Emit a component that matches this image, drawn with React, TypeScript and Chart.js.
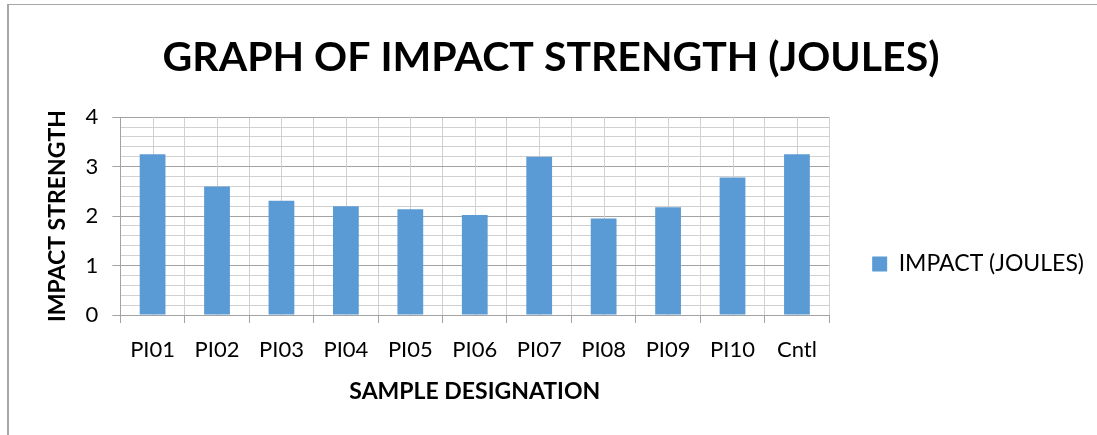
import React, { useEffect, useRef } from "react";
import { Chart, registerables } from "chart.js";

Chart.register(...registerables);

// Sample designations along the x axis
const samples = ["PI01", "PI02", "PI03", "PI04", "PI05", "PI06", "PI07", "PI08", "PI09", "PI10", "Cntl"];
// Measured impact strength per sample, in joules
const impactJoules = [3.25, 2.6, 2.31, 2.2, 2.14, 2.02, 3.2, 1.95, 2.18, 2.78, 3.25];
// Value axis range and gridline steps
const yMin = 0;
const yMax = 4;
const yMinorStep = 0.2;

const seriesLabel = "IMPACT (JOULES)";
const chartTitle = "GRAPH OF IMPACT STRENGTH (JOULES)";
const xTitle = "SAMPLE DESIGNATION";
const yTitle = "IMPACT STRENGTH";

const FONT = "Lato, 'Open Sans', sans-serif";
const BAR_BLUE = "#5b9bd5";
const MAJOR_GRID = "#a3a3a3";
const MINOR_GRID = "#d0d0d0";

const isWhole = (v: number) => Math.abs(v - Math.round(v)) < 1e-6;

// Light vertical lines through the middle of each category, behind the bars
const categoryCenterLines = {
  id: "categoryCenterLines",
  beforeDatasetsDraw(chart: any) {
    const { ctx, chartArea, scales } = chart;
    const x = scales.x;
    ctx.save();
    ctx.strokeStyle = MINOR_GRID;
    ctx.lineWidth = 1;
    for (let i = 0; i < samples.length; i++) {
      const px = Math.round(x.getPixelForValue(i)) + 0.5;
      ctx.beginPath();
      ctx.moveTo(px, chartArea.top);
      ctx.lineTo(px, chartArea.bottom);
      ctx.stroke();
    }
    ctx.restore();
  },
};

export default function App() {
  const canvasRef = useRef<HTMLCanvasElement | null>(null);

  useEffect(() => {
    if (!canvasRef.current) return;
    const chart = new Chart(canvasRef.current, {
      type: "bar",
      data: {
        labels: samples,
        datasets: [
          {
            label: seriesLabel,
            data: impactJoules,
            backgroundColor: BAR_BLUE,
            borderColor: BAR_BLUE,
            borderWidth: 0,
            barPercentage: 0.4,
            categoryPercentage: 1.0,
          },
        ],
      },
      plugins: [categoryCenterLines],
      options: {
        responsive: false,
        animation: false,
        layout: { padding: { left: 8, right: 3, top: 0, bottom: 30 } },
        plugins: {
          title: {
            display: true,
            text: chartTitle,
            color: "#000",
            font: { family: FONT, size: 41, weight: "bold" },
            padding: { top: 33, bottom: 35 },
          },
          legend: {
            position: "right",
            align: "start",
            // empty title block pushes the single entry down beside the plot
            title: {
              display: true,
              text: "",
              font: { family: FONT, size: 12 },
              padding: { top: 195, bottom: 0 },
            },
            labels: {
              color: "#000",
              font: { family: FONT, size: 23 },
              boxWidth: 15,
              boxHeight: 15,
              padding: 43,
            },
          },
          tooltip: { enabled: false },
        },
        scales: {
          x: {
            grid: {
              offset: true,
              color: MINOR_GRID,
              tickColor: MAJOR_GRID,
              tickLength: 8,
            },
            border: { color: MAJOR_GRID, width: 1 },
            ticks: {
              color: "#000",
              font: { family: FONT, size: 22 },
              padding: 14,
              maxRotation: 0,
              autoSkip: false,
            },
            title: {
              display: true,
              text: xTitle,
              color: "#000",
              font: { family: FONT, size: 23, weight: "bold" },
              padding: { top: 0, bottom: 0 },
            },
          },
          y: {
            min: yMin,
            max: yMax,
            grid: {
              color: (c: any) => (isWhole(c.tick.value) ? MAJOR_GRID : MINOR_GRID),
              tickColor: (c: any) => (isWhole(c.tick.value) ? MAJOR_GRID : "rgba(0,0,0,0)"),
              tickLength: 8,
            },
            border: { color: MAJOR_GRID, width: 1 },
            ticks: {
              stepSize: yMinorStep,
              autoSkip: false,
              color: "#000",
              font: { family: FONT, size: 22 },
              padding: 14,
              callback: (v: any) => (isWhole(Number(v)) ? String(Math.round(Number(v))) : ""),
            },
            title: {
              display: true,
              text: yTitle,
              color: "#000",
              font: { family: FONT, size: 23, weight: "bold" },
              padding: { top: 36, bottom: 0 },
            },
          },
        },
      },
    });
    return () => chart.destroy();
  }, []);

  return (
    <div style={{ position: "fixed", left: 0, top: 0, width: 1097, height: 435, background: "#fff" }}>
      <div
        style={{
          position: "absolute",
          left: 7,
          top: 4,
          width: 1100,
          height: 440,
          borderLeft: "2px solid #a6a6a6",
          borderTop: "1px solid #a6a6a6",
          boxSizing: "border-box",
        }}
      />
      <canvas ref={canvasRef} width={1097} height={435} style={{ position: "absolute", left: 0, top: 0 }} />
    </div>
  );
}
